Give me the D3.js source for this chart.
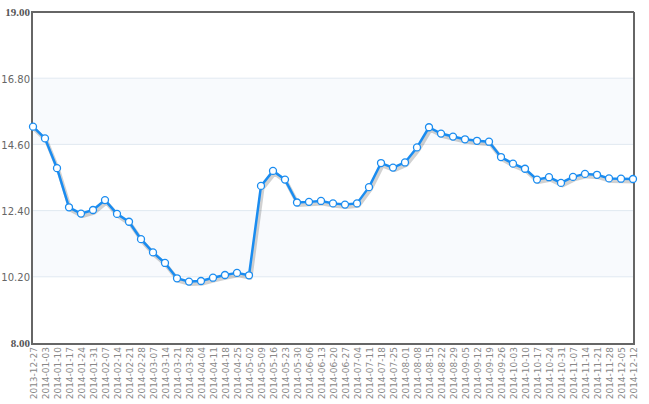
<!DOCTYPE html>
<html><head><meta charset="utf-8">
<script src="https://cdn.jsdelivr.net/npm/d3@7"></script>
<style>body{margin:0;background:#fff}svg{display:block}</style>
</head><body><svg id="c" width="649" height="404"></svg>
<script>
const dates = ["2013-12-27","2014-01-03","2014-01-10","2014-01-17","2014-01-24","2014-01-31","2014-02-07","2014-02-14","2014-02-21","2014-02-28","2014-03-07","2014-03-14","2014-03-21","2014-03-28","2014-04-04","2014-04-11","2014-04-18","2014-04-25","2014-05-02","2014-05-09","2014-05-16","2014-05-23","2014-05-30","2014-06-06","2014-06-13","2014-06-20","2014-06-27","2014-07-04","2014-07-11","2014-07-18","2014-07-25","2014-08-01","2014-08-08","2014-08-15","2014-08-22","2014-08-29","2014-09-05","2014-09-12","2014-09-19","2014-09-26","2014-10-03","2014-10-10","2014-10-17","2014-10-24","2014-10-31","2014-11-07","2014-11-14","2014-11-21","2014-11-28","2014-12-05","2014-12-12"];
const values = [15.19,14.80,13.81,12.51,12.30,12.42,12.75,12.29,12.03,11.45,11.01,10.66,10.15,10.04,10.06,10.17,10.26,10.33,10.25,13.22,13.72,13.43,12.67,12.69,12.72,12.64,12.60,12.64,13.18,13.98,13.83,14.00,14.50,15.17,14.96,14.86,14.77,14.72,14.69,14.18,13.96,13.79,13.43,13.51,13.32,13.52,13.62,13.59,13.47,13.46,13.45];
const yTicks = [8.00,10.20,12.40,14.60,16.80,19.00];

const L=33, R=633, T=12, B=343;
const svg = d3.select("#c");
const x = d3.scalePoint().domain(dates).range([L,R]);
const y = d3.scaleLinear().domain([8,19]).range([B,T]);

// bands
for(let i=0;i<yTicks.length-1;i++){
  svg.append("rect").attr("x",L).attr("width",R-L)
    .attr("y",y(yTicks[i+1])).attr("height",y(yTicks[i])-y(yTicks[i+1]))
    .attr("fill", i%2===1 ? "#f8fafd" : "#ffffff");
}
// gridlines
svg.append("g").selectAll("line").data(yTicks.slice(1,-1)).join("line")
  .attr("x1",L).attr("x2",R).attr("y1",d=>y(d)).attr("y2",d=>y(d))
  .attr("stroke","#e1e9f1").attr("stroke-width",1);

// y labels
const isEnd = (i)=> i===0 || i===yTicks.length-1;
svg.append("g").selectAll("text").data(yTicks).join("text")
  .attr("x",L-3).attr("y",(d,i)=>y(d)+(isEnd(i)?3.5:4.5))
  .attr("text-anchor","end")
  .attr("font-family",(d,i)=>isEnd(i)?"Liberation Serif, Times New Roman, serif":"DejaVu Sans, Verdana, sans-serif")
  .attr("font-size",(d,i)=>isEnd(i)?11:10)
  .attr("font-weight",(d,i)=>isEnd(i)?"bold":"normal")
  .attr("fill",(d,i)=>isEnd(i)?"#555":"#666")
  .text(d=>d.toFixed(2));

// x labels
svg.append("g").selectAll("text").data(dates).join("text")
  .attr("transform",d=>`translate(${x(d)+3.5},347) rotate(-90)`)
  .attr("text-anchor","end")
  .attr("font-family","DejaVu Sans, Verdana, sans-serif")
  .attr("font-size",9)
  .attr("fill","#888")
  .text(d=>d);

const line = d3.line().x((d,i)=>x(dates[i])).y(d=>y(d));
// shadow
svg.append("path").datum(values).attr("d",line)
  .attr("fill","none").attr("stroke","rgba(0,0,0,0.18)").attr("stroke-width",4)
  .attr("stroke-linejoin","round").attr("transform","translate(1.5,2.5)");
svg.append("path").datum(values).attr("d",line)
  .attr("fill","none").attr("stroke","#1a8cf0").attr("stroke-width",2.5)
  .attr("stroke-linejoin","round");

// frame
svg.append("line").attr("x1",L-1).attr("x2",R+1).attr("y1",T).attr("y2",T).attr("stroke","#666").attr("stroke-width",2);
svg.append("line").attr("x1",R+1).attr("x2",R+1).attr("y1",T).attr("y2",B).attr("stroke","#666").attr("stroke-width",2);
svg.append("line").attr("x1",L-1).attr("x2",L-1).attr("y1",T-1).attr("y2",B+1).attr("stroke","#666").attr("stroke-width",2);
svg.append("line").attr("x1",L-2).attr("x2",R+2).attr("y1",B+1).attr("y2",B+1).attr("stroke","#666").attr("stroke-width",2);

// markers
svg.append("g").selectAll("circle").data(values).join("circle")
  .attr("cx",(d,i)=>x(dates[i])).attr("cy",d=>y(d)).attr("r",3.5)
  .attr("fill","#fff").attr("stroke","#1a8cf0").attr("stroke-width",1.3);
</script></body></html>
